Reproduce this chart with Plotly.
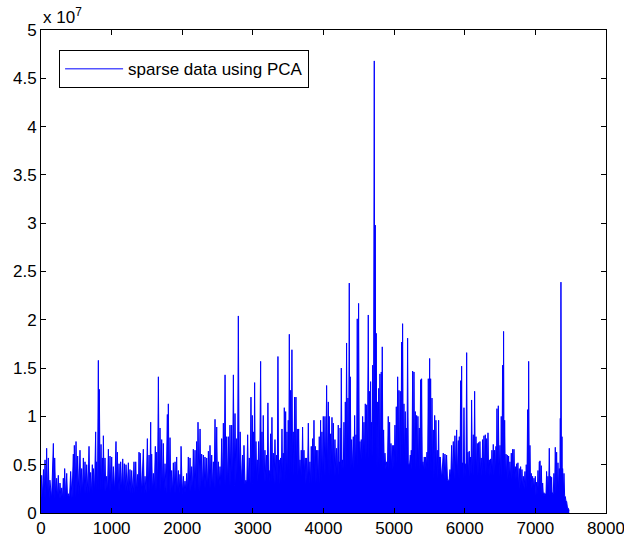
import plotly.graph_objects as go

# Peak readings (sample index, value in units of 1e7)
peak_x = [10, 35, 57, 80, 104, 126, 175, 194, 222, 245, 269, 293, 316, 335, 364, 387, 420, 458, 472, 496,
          519, 552, 576, 600, 623, 647, 680, 703, 727, 741, 774, 788, 812, 826, 850, 869, 883, 906, 930, 954,
          977, 1001, 1024, 1062, 1081, 1105, 1128, 1157, 1180, 1204, 1237, 1260, 1284, 1317, 1341, 1369, 1388,
          1404, 1449, 1473, 1506, 1530, 1553, 1567, 1591, 1619, 1638, 1662, 1685, 1709, 1732, 1756, 1789, 1803,
          1827, 1850, 1874, 1898, 1921, 1945, 1968, 1983, 2016, 2039, 2063, 2086, 2110, 2134, 2157, 2181, 2204,
          2223, 2252, 2275, 2299, 2322, 2346, 2370, 2393, 2417, 2440, 2464, 2488, 2511, 2535, 2558, 2582, 2606,
          2629, 2653, 2676, 2700, 2724, 2747, 2771, 2794,
          2820, 2855, 2874, 2902, 2926, 2949, 2973, 2992, 3006, 3025, 3044, 3062, 3081, 3110, 3129, 3147, 3171,
          3195, 3213, 3232, 3251, 3270, 3289, 3313, 3336, 3355, 3374, 3393, 3412, 3431, 3445, 3464, 3483, 3501,
          3516, 3534, 3553, 3572, 3591, 3610, 3629, 3648, 3667, 3685, 3704, 3723, 3742, 3761, 3785, 3808, 3827,
          3846, 3865, 3884, 3903, 3921, 3940, 3959, 3978, 3997, 4021, 4044, 4068, 4082, 4101, 4120, 4139, 4162,
          4186, 4209, 4224,
          4235, 4252, 4271, 4290, 4309, 4327, 4346, 4365, 4379, 4398, 4422, 4441, 4460, 4478, 4497, 4516, 4535,
          4554, 4573, 4592, 4611, 4634, 4653, 4667, 4681, 4696, 4719, 4733, 4747, 4762, 4781, 4799, 4818, 4832,
          4851, 4870, 4894, 4917, 4936, 4955, 4974, 4993, 5012, 5031, 5050, 5068, 5087, 5106, 5120, 5139, 5158,
          5172, 5191, 5210, 5229, 5243, 5262, 5281, 5300, 5319, 5337, 5356, 5375, 5389, 5408, 5427, 5446, 5465,
          5484, 5503, 5517, 5536, 5555, 5574, 5592, 5611, 5630, 5644,
          5652, 5696, 5720, 5743, 5767, 5791, 5814, 5838, 5861, 5885, 5909, 5923, 5942, 5956, 5970, 5989, 6008,
          6027, 6045, 6064, 6083, 6097, 6121, 6140, 6159, 6178, 6197, 6215, 6234, 6253, 6272, 6291, 6310, 6329,
          6348, 6366, 6385, 6404, 6423, 6442, 6456, 6475, 6499, 6517, 6536, 6550, 6565, 6584, 6602, 6621, 6640,
          6659, 6678, 6697, 6716, 6735, 6753, 6772, 6791, 6810, 6829, 6853, 6871, 6890, 6905, 6923, 6942, 6961,
          6980, 6999, 7018, 7037, 7056,
          7065, 7084, 7103, 7122, 7141, 7159, 7178, 7197, 7216, 7230, 7244, 7263, 7282, 7301, 7320, 7339, 7353,
          7362, 7377, 7386, 7405, 7424, 7443, 7466, 7480]

peak_v = [0.39, 0.45, 0.55, 0.67, 0.57, 0.34, 0.72, 0.57, 0.36, 0.39, 0.31, 0.26, 0.36, 0.46, 0.41, 0.20, 0.43,
          0.61, 0.70, 0.74, 0.59, 0.65, 0.46, 0.57, 0.53, 0.50, 0.69, 0.42, 0.50, 0.46, 0.84, 0.53, 1.58, 1.28,
          0.71, 0.57, 0.80, 0.57, 0.38, 0.66, 0.59, 0.58, 0.48, 0.74, 0.63, 0.51, 0.53, 0.56, 0.51, 0.50, 0.52,
          0.45, 0.44, 0.53, 0.53, 0.40, 0.63,
          0.62, 0.66, 0.38, 0.77, 0.60, 0.94, 0.61, 0.41, 0.69, 0.63, 1.41, 0.88, 0.76, 0.72, 0.51, 1.02, 1.13,
          0.78, 0.44, 0.52, 0.53, 0.58, 0.44, 0.40, 0.69, 0.38, 0.33, 0.41, 0.58, 0.57, 0.48, 0.66, 0.65, 0.74,
          0.94, 0.87, 0.61, 0.60, 0.58, 0.57, 0.64, 0.70, 0.60, 0.53, 0.97, 0.89, 0.53, 0.48, 0.77, 0.93, 1.43,
          0.79, 0.79, 0.91, 0.91, 1.43, 1.03, 0.77, 2.04,
          0.84, 0.60, 0.70, 0.34, 0.81, 0.57, 1.20, 1.01, 0.84, 1.35, 0.74, 0.55, 0.74, 1.57, 0.84, 1.01, 0.65,
          0.60, 1.14, 0.44, 0.82, 0.99, 0.62, 0.76, 0.60, 1.62, 0.55, 0.57, 0.87, 0.62, 1.09, 1.05, 0.84, 0.96,
          1.85, 1.27, 1.69, 0.84, 1.20, 1.20, 0.87, 0.87, 0.55, 0.65, 0.89, 0.65, 0.57, 0.57, 0.93, 0.53, 0.69,
          0.77, 0.96, 0.69, 0.65, 0.65, 0.79, 0.96, 0.84, 1.00, 1.00, 1.32, 1.15, 1.00, 0.82, 0.99, 0.93, 0.76,
          0.67, 0.91, 0.53,
          0.88, 1.50, 0.55, 0.94, 1.15, 1.76, 1.19, 2.38, 1.41, 0.76, 0.79, 1.01, 0.81, 2.01, 2.17, 0.74, 0.76,
          1.00, 0.94, 1.13, 1.12, 2.05, 1.26, 1.36, 0.94, 1.53, 4.68, 2.98, 1.86, 1.15, 1.29, 1.44, 1.46, 1.72,
          0.86, 0.62, 0.53, 1.00, 0.94, 0.72, 0.70, 0.70, 0.91, 1.10, 1.41, 1.27, 1.26, 1.77, 1.96, 1.13, 1.05,
          0.88, 1.81, 0.51, 0.60, 0.65, 1.47, 1.46, 1.05, 1.01, 1.00, 0.88, 1.38, 1.39, 0.53, 0.58, 0.58, 0.63,
          1.39, 1.60, 1.39, 1.19, 0.86, 1.01, 0.96, 0.65, 0.96, 0.58,
          0.58, 0.62, 0.61, 0.60, 0.34, 0.45, 0.70, 0.74, 0.80, 0.86, 0.75, 0.79, 1.37, 1.52, 0.52, 1.09, 0.51,
          1.66, 0.63, 0.64, 0.58, 1.17, 0.81, 1.26, 0.79, 0.72, 0.73, 0.74, 0.57, 0.76, 0.80, 0.81, 0.77, 0.83,
          0.55, 0.56, 0.65, 0.71, 0.65, 0.69, 1.08, 1.11, 0.70, 1.00, 1.53, 1.88, 0.96, 0.61, 0.60, 0.59, 0.53,
          0.62, 0.66, 0.66, 0.48, 0.51, 0.52, 0.46, 0.48, 0.45, 0.38, 0.43, 0.50, 1.07, 1.57, 0.70, 0.41, 0.38,
          0.36, 0.38, 0.32, 0.44, 0.53,
          0.54, 0.49, 0.31, 0.21, 0.20, 0.43, 0.38, 0.67, 0.38, 0.37, 0.21, 0.41, 0.68, 0.63, 0.52, 0.46, 0.98,
          2.39, 0.79, 0.46, 0.41, 0.17, 0.12, 0.05, 0.03]

# Top of the dense (solid) band of the signal in each 250-sample block (units of 1e7)
band_block = [0.15, 0.15, 0.20, 0.22, 0.22, 0.20, 0.22, 0.20, 0.22, 0.25, 0.28, 0.30, 0.32, 0.30, 0.38,
              0.30, 0.38, 0.45, 0.55, 0.45, 0.50, 0.45, 0.35, 0.35, 0.38, 0.38, 0.35, 0.25, 0.18, 0.20, 0.02]

x_ticks = [0, 1000, 2000, 3000, 4000, 5000, 6000, 7000, 8000]
y_ticks = [0, 0.5, 1, 1.5, 2, 2.5, 3, 3.5, 4, 4.5, 5]

xs, ys = [0], [band_block[0]]
for i in range(len(peak_x)):
    xs.append(peak_x[i]); ys.append(peak_v[i])
    if i + 1 < len(peak_x):
        xm = (peak_x[i] + peak_x[i + 1]) / 2
        lo = min(band_block[int(xm // 250)], peak_v[i], peak_v[i + 1])
        xs.append(xm); ys.append(lo)

fig = go.Figure()
# dense body of the signal
fig.add_trace(go.Scatter(x=xs, y=ys, mode="none", fill="tozeroy", fillcolor="#0000ff",
                         showlegend=False, hoverinfo="skip"))
# the signal line itself
fig.add_trace(go.Scatter(x=xs, y=ys, mode="lines", name="sparse data using PCA",
                         line=dict(color="#0000ff", width=1, simplify=False)))

axis_common = dict(showline=True, linecolor="black", linewidth=1, mirror="ticks",
                   ticks="inside", ticklen=5, tickcolor="black", showgrid=False, zeroline=False,
                   ticklabeloverflow="allow", automargin=False,
                   tickfont=dict(family="Liberation Sans, Arial", size=17, color="black"))
fig.update_xaxes(range=[0, 8000], tickvals=x_ticks, **axis_common)
fig.update_yaxes(range=[0, 5], tickvals=y_ticks, **axis_common)

fig.update_layout(
    width=624, height=544,
    margin=dict(l=41, r=18, t=30, b=31, autoexpand=False),
    paper_bgcolor="white", plot_bgcolor="white",
    showlegend=True,
    legend=dict(x=0.032, y=0.958, xanchor="left", yanchor="top",
                bordercolor="black", borderwidth=1, bgcolor="white", itemwidth=58,
                font=dict(family="Liberation Sans, Arial", size=17, color="black")),
    annotations=[dict(text="x 10<sup>7</sup>", x=0, y=1, xref="paper", yref="paper",
                      xanchor="left", yanchor="bottom", showarrow=False, yshift=1,
                      font=dict(family="Liberation Sans, Arial", size=17, color="black"))],
)

fig.write_html("out.html")
